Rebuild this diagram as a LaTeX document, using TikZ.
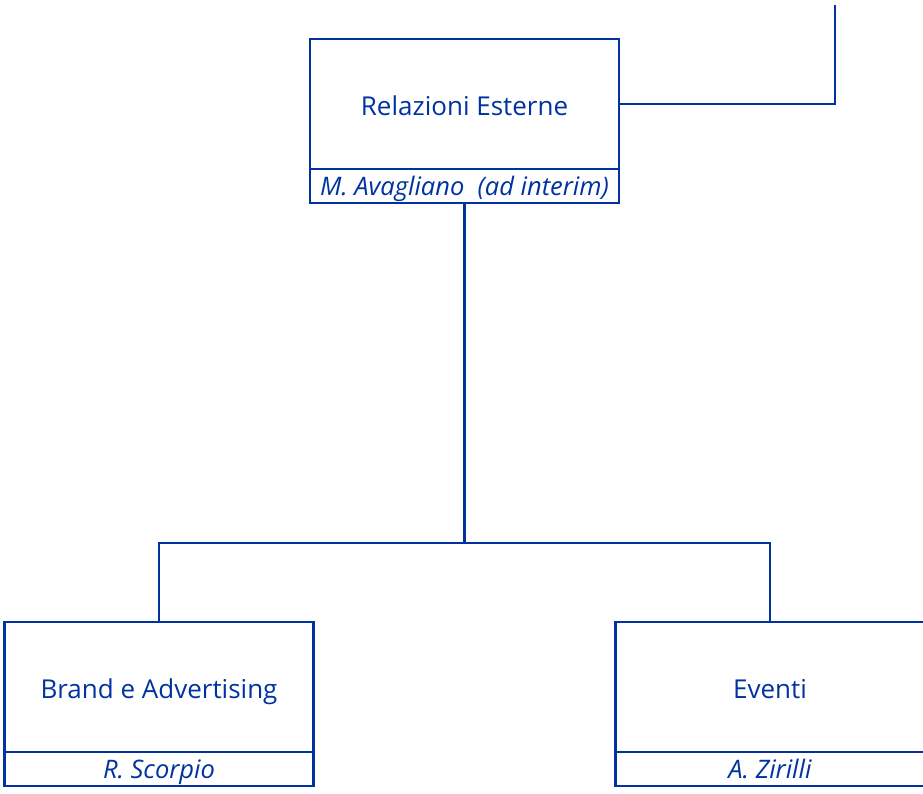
\documentclass[tikz,border=0pt]{standalone}
\usepackage{fontspec}
\setmainfont{Open Sans}
\usepackage{tikz}
\usetikzlibrary{positioning}
\definecolor{orgblue}{RGB}{0,51,160}

\begin{document}
\begin{tikzpicture}[x=1pt, y=-1pt, line width=2.4pt, draw=orgblue,
    unitbox/.style={draw=orgblue, text=orgblue, minimum width=309pt, minimum height=130pt, inner sep=0pt, outer sep=0pt, text height=26pt, text depth=4pt, font=\fontsize{26}{30}\selectfont},
    namebar/.style={draw=orgblue, text=orgblue, minimum width=309pt, minimum height=34pt, inner sep=0pt, outer sep=0pt, text height=22pt, text depth=4pt, font=\fontsize{25.5}{29}\selectfont\itshape}]
  \useasboundingbox (0,0) rectangle (923,793);
  \node[unitbox] (relest) at (464.5,104) {Relazioni Esterne};
  \node[namebar, below=0pt of relest] (relestname) {M. Avagliano\ \ (ad interim)};
  \node[unitbox] (brand) at (159,687) {Brand e Advertising};
  \node[namebar, below=0pt of brand] (brandname) {R. Scorpio};
  \node[unitbox] (eventi) at (770,687) {Eventi};
  \node[namebar, below=0pt of eventi] (eventiname) {A. Zirilli};
  \coordinate (up) at (835,5);
  \coordinate (bus) at (464.5,543);
  \draw[orgblue] (relest.east) -| (up);
  \draw[orgblue] (relestname.south) -- (bus);
  \draw[orgblue] (brand.north) |- (bus) -| (eventi.north);
\end{tikzpicture}
\end{document}
